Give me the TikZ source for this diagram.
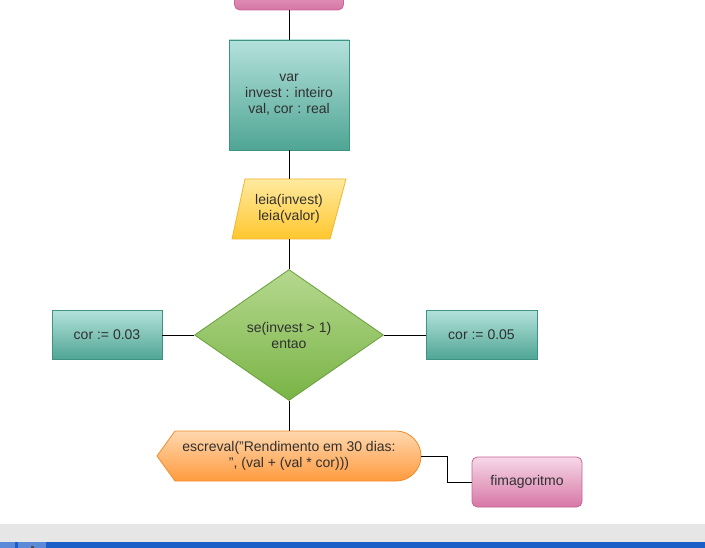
\documentclass[tikz,border=0pt]{standalone}
\usepackage{fontspec}
\setmainfont{Liberation Sans}
\usetikzlibrary{shapes.geometric}
\definecolor{tealtop}{HTML}{B3E1DB}
\definecolor{tealbot}{HTML}{4FA594}
\definecolor{tealline}{HTML}{3E9381}
\definecolor{yeltop}{HTML}{FFEAA0}
\definecolor{yelbot}{HTML}{FFC72E}
\definecolor{yelline}{HTML}{F1B530}
\definecolor{grntop}{HTML}{B5D88E}
\definecolor{grnbot}{HTML}{79B446}
\definecolor{grnline}{HTML}{6A9F3C}
\definecolor{orgtop}{HTML}{FFD7AE}
\definecolor{orgbot}{HTML}{FF9B3F}
\definecolor{orgline}{HTML}{F28C28}
\definecolor{pnktop}{HTML}{F6D9E8}
\definecolor{pnkbot}{HTML}{D776A6}
\definecolor{pnkline}{HTML}{C7649A}
\definecolor{txt}{HTML}{303030}
\definecolor{bandgray}{HTML}{E6E6E6}
\definecolor{bandblue}{HTML}{1A5FC8}
\definecolor{bandlight}{HTML}{5A8AD8}
\begin{document}
\begin{tikzpicture}[x=0.75pt,y=-0.75pt,
  every node/.style={font=\fontsize{10.5}{12}\selectfont, text=txt, align=center, inner sep=0pt},
  tealbox/.style={draw=tealline, top color=tealtop, bottom color=tealbot, line width=0.6pt},
  pinkbox/.style={draw=pnkline, top color=pnktop, bottom color=pnkbot, rounded corners=4pt, line width=0.6pt},
  conn/.style={draw=black, line width=0.7pt}]
\useasboundingbox (0,0) rectangle (705,548);
\clip (0,0) rectangle (705,548);
\fill[white] (0,0) rectangle (705,548);
% top terminal (cut off)
\node[pinkbox, minimum width=81.75pt, minimum height=37.5pt] (start) at (289,-15) {};
% var box
\node[tealbox, minimum width=90pt, minimum height=82.5pt] (var) at (289,95) {var\\invest : inteiro\\val, cor : real};
% input parallelogram
\path[draw=yelline, top color=yeltop, bottom color=yelbot, line width=0.6pt]
  (245,179) -- (346,179) -- (330,239) -- (232,239) -- cycle;
\node[minimum height=45pt] (leia) at (289,209) {leia(invest)\\leia(valor)};
% decision
\node[diamond, draw=grnline, top color=grntop, bottom color=grnbot, line width=0.6pt,
  minimum width=141.75pt, minimum height=98.25pt] (dec) at (289,335) {se(invest > 1)\\entao};
% side boxes
\node[tealbox, minimum width=82.5pt, minimum height=36.75pt] (left) at (107,335) {cor := 0.03};
\node[tealbox, minimum width=83.25pt, minimum height=36.75pt] (right) at (481.5,335) {cor := 0.05};
% display shape
\path[draw=orgline, top color=orgtop, bottom color=orgbot, line width=0.6pt]
  (157,456) -- (175,431) -- (396,431) arc[start angle=-90, end angle=90, radius=25] -- (175,481) -- cycle;
\node[minimum height=37.5pt, minimum width=198pt] (disp) at (289,456) {escreval("Rendimento em 30 dias:\\", (val + (val * cor)))};
\coordinate (dispR) at (421,456);
% end terminal
\node[pinkbox, minimum width=82.5pt, minimum height=37.5pt] (fim) at (527,482) {fimagoritmo};
% connectors
\draw[conn] (start.south) -- (var.north);
\draw[conn] (var.south) -- (leia.north);
\draw[conn] (leia.south) -- (dec.north);
\draw[conn] (left.east) -- (dec.west);
\draw[conn] (dec.east) -- (right.west);
\draw[conn] (dec.south) -- (disp.north);
\draw[conn] (dispR) -- ++(26,0) |- (fim.west);
% bottom window bands
\fill[bandgray] (0,524) rectangle (705,542);
\fill[bandblue] (0,542) rectangle (705,548);
\fill[bandlight] (0,542) rectangle (15,548);
\fill[bandlight] (18,542) rectangle (46,548);
\fill[black!70] (31,546) rectangle (34,548);
\end{tikzpicture}
\end{document}
